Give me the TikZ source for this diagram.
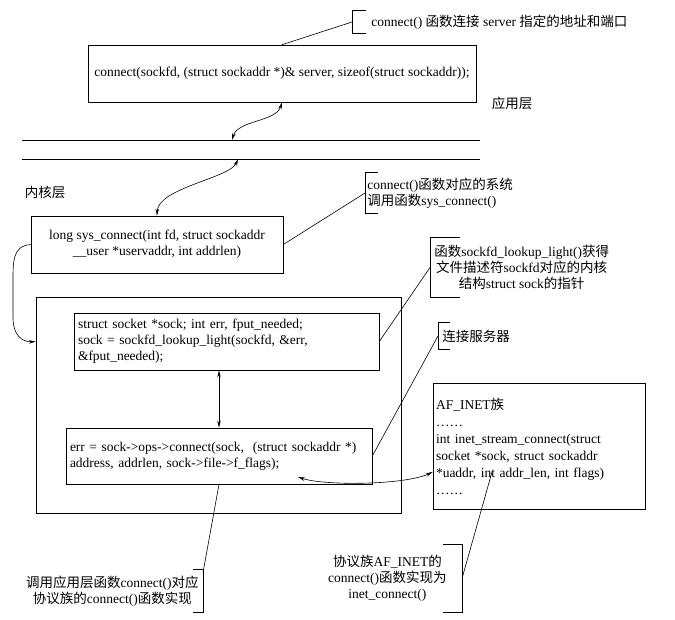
\documentclass[tikz,border=0pt]{standalone}
\usepackage{fontspec}
\setmainfont{Liberation Serif}
\newfontfamily\cjk{Noto Sans CJK SC}
\newcommand{\zh}[1]{{\cjk #1}}
\usetikzlibrary{arrows.meta}

\begin{document}
\begin{tikzpicture}[x=1pt,y=-1pt,line width=0.6pt,
font=\fontsize{13.5}{16}\selectfont,
onearrow/.style={-{Stealth[length=7pt,width=3.5pt]}},
twoarrow/.style={{Stealth[length=7pt,width=3.5pt]}-{Stealth[length=7pt,width=3.5pt]}}]
\useasboundingbox (0,0) rectangle (675,619);

\node[draw, rectangle, minimum width=388pt, minimum height=57pt] (a) at (282,73.5)
{\raisebox{-4pt}{connect(sockfd, (struct sockaddr *)\& server, sizeof(struct sockaddr));}};

\node (m) at (512,103) {\zh{应用层}};
\coordinate (l1a) at (22,140);
\coordinate (l1b) at (480,140);
\coordinate (l2a) at (22,159);
\coordinate (l2b) at (480,159);
\path[draw] (l1a) -- (l1b);
\path[draw] (l2a) -- (l2b);
\coordinate (p1) at (232,140);
\coordinate (p2) at (238,159);
\node (n) at (45,192) {\zh{内核层}};

\node[draw, rectangle, minimum width=252pt, minimum height=57pt, align=center] (b) at (157,244.5)
{long sys\_connect(int fd, struct sockaddr\\
\_\_user *uservaddr, int addrlen)};

\node[draw, rectangle, minimum width=365pt, minimum height=216pt] (c) at (218.5,405) {};

\node[draw, rectangle, text width=297pt, inner xsep=4pt, minimum height=57pt, align=left] (d) at (226.5,341.5)
{struct socket *sock; int err, fput\_needed;\\
sock = sockfd\_lookup\_light(sockfd, \&err,\\
\&fput\_needed);};

\node[draw, rectangle, text width=298pt, inner xsep=4pt, minimum height=56pt, align=left] (e) at (219,456)
{err = sock->ops->connect(sock,\ \ (struct sockaddr *)\\
address, addrlen, sock->file->f\_flags);};

\node[draw, rectangle, text width=206pt, inner xsep=3pt, minimum height=126pt, align=left,
font=\fontsize{13.5}{17}\selectfont] (f) at (539,446)
{AF\_INET\zh{族}\\
……\\
int inet\_stream\_connect(struct\\
socket *sock, struct sockaddr\\
{}*uaddr, int addr\_len, int flags)\\
……};

\node[anchor=west, inner xsep=19pt, minimum height=22pt] (g) at (352,22)
{connect() \zh{函数连接} server \zh{指定的地址和端口}};
\path[draw] ([xshift=14pt]g.north west) -- (g.north west) -- (g.south west) -- ([xshift=14pt]g.south west);

\node[anchor=west, inner xsep=2pt, minimum height=40pt, align=left] (h) at (365,193)
{connect()\zh{函数对应的系统}\\
\zh{调用函数}sys\_connect()};
\path[draw] ([xshift=13pt]h.north west) -- (h.north west) -- (h.south west) -- ([xshift=13pt]h.south west);

\node[anchor=west, inner xsep=4pt, minimum height=59pt, align=center] (i) at (430,267.5)
{\zh{函数}sockfd\_lookup\_light()\zh{获得}\\
\zh{文件描述符}sockfd\zh{对应的内核}\\
\zh{结构}struct sock\zh{的指针}};
\path[draw] ([xshift=30pt]i.north west) -- (i.north west) -- (i.south west) -- ([xshift=30pt]i.south west);

\node[anchor=west, inner xsep=4pt, minimum height=26pt] (j) at (438,336) {\zh{连接服务器}};
\path[draw] ([xshift=12pt]j.north west) -- (j.north west) -- (j.south west) -- ([xshift=12pt]j.south west);

\node[anchor=east, inner xsep=15pt, minimum height=67pt, align=center] (k) at (462,578.5)
{\zh{协议族}AF\_INET\zh{的}\\
connect()\zh{函数实现为}\\
inet\_connect()};
\path[draw] ([xshift=-19pt]k.north east) -- (k.north east) -- (k.south east) -- ([xshift=-19pt]k.south east);

\node[anchor=east, inner xsep=4pt, minimum height=42pt, align=center] (l) at (203,591)
{\zh{调用应用层函数}connect()\zh{对应}\\
\zh{协议族的}connect()\zh{函数实现}};
\path[draw] ([xshift=-10pt]l.north east) -- (l.north east) -- (l.south east) -- ([xshift=-10pt]l.south east);

\path[draw,twoarrow] (a.south) .. controls (276,122) and (238,120) .. (p1);
\path[draw,twoarrow] (p2) .. controls (230,178) and (158,188) .. (b.north);
\path[draw,onearrow] (b.west) .. controls (12,246) and (13,262) .. (13,285) -- (13,318)
.. controls (13,335) and (22,342) .. ([yshift=-45pt]c.north west);
\path[draw,twoarrow] (d.south -| e.north) -- (e.north);
\coordinate (q) at (298,477);
\coordinate (r) at (492,472);
\path[draw,twoarrow] (q) .. controls (325,486) and (405,485) .. ([yshift=-26pt]f.west);

\path[draw] (a.north) -- (g.west);
\path[draw] (b.east) -- (h.west);
\path[draw] (d.east) -- (i.west);
\path[draw] (e.east) -- (j.west);
\path[draw] (r) -- (k.east);
\path[draw] (e.south) -- ([yshift=-3pt]l.north east);
\end{tikzpicture}
\end{document}
